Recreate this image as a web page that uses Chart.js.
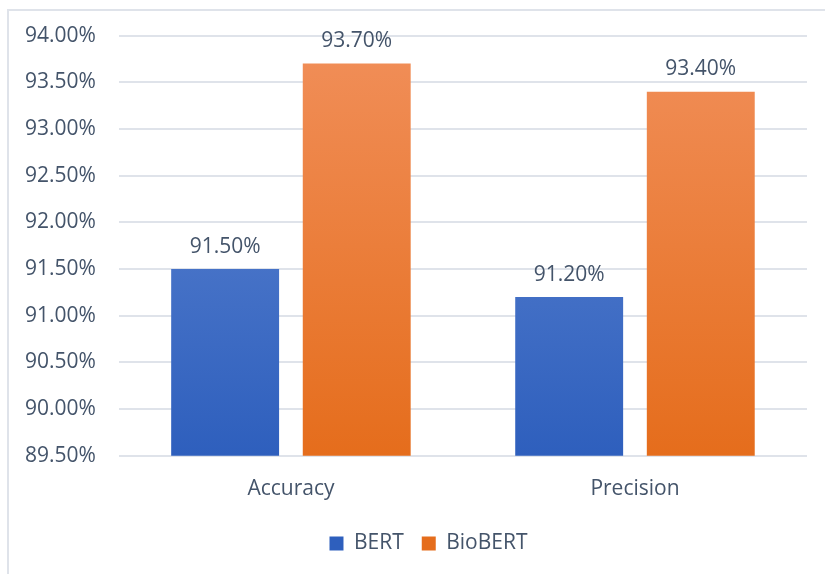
<!DOCTYPE html>
<html>
<head>
<meta charset="utf-8">
<script src="https://cdn.jsdelivr.net/npm/chart.js@4"></script>
<style>
  html, body { margin: 0; padding: 0; background: #fff; overflow: hidden; }
  #frame { position: absolute; left: 7px; top: 9px; width: 830px; height: 580px;
           border-left: 2px solid #dfe3ea; border-top: 2px solid #dfe3ea; }
  #wrap { position: absolute; left: 0; top: 0; width: 850px; height: 574px; }
</style>
</head>
<body>
<div id="frame"></div>
<div id="wrap"><canvas id="myChart"></canvas></div>
<script>
var categories = ['Accuracy', 'Precision'];
var bertValues = [91.5, 91.2];
var biobertValues = [93.7, 93.4];
var seriesNames = ['BERT', 'BioBERT'];

var textColor = '#44546A';
var fontFamily = "'Open Sans', sans-serif";

function makeGradient(ctx, area, top, bottom) {
    var g = ctx.createLinearGradient(0, area.top, 0, area.bottom);
    g.addColorStop(0, top);
    g.addColorStop(1, bottom);
    return g;
}

// draws the value above each bar
var valueLabels = {
    id: 'valueLabels',
    afterDatasetsDraw: function (chart) {
        var ctx = chart.ctx;
        ctx.save();
        ctx.fillStyle = textColor;
        ctx.font = '21px ' + fontFamily;
        ctx.textAlign = 'center';
        ctx.textBaseline = 'bottom';
        chart.data.datasets.forEach(function (ds, i) {
            chart.getDatasetMeta(i).data.forEach(function (bar, j) {
                ctx.fillText(ds.data[j].toFixed(2) + '%', bar.x, bar.y - 12);
            });
        });
        ctx.restore();
    }
};

// the frame is wider than the page, so the legend sits a bit right of the plot centre
var legendShift = {
    id: 'legendShift',
    afterLayout: function (chart) {
        var lg = chart.legend;
        lg.left += 24;
        lg.right += 24;
        lg.adjustHitBoxes();
    }
};

var ctx = document.getElementById('myChart').getContext('2d');
var myChart = new Chart(ctx, {
    type: 'bar',
    data: {
        labels: categories,
        datasets: [{
            label: seriesNames[0],
            data: bertValues,
            backgroundColor: function (c) {
                var a = c.chart.chartArea;
                if (!a) return '#4472C4';
                return makeGradient(c.chart.ctx, a, '#6389d3', '#2e5fbd');
            },
            categoryPercentage: 0.765,
            barPercentage: 0.82
        }, {
            label: seriesNames[1],
            data: biobertValues,
            backgroundColor: function (c) {
                var a = c.chart.chartArea;
                if (!a) return '#ED7D31';
                return makeGradient(c.chart.ctx, a, '#f18f5a', '#e56d1c');
            },
            categoryPercentage: 0.765,
            barPercentage: 0.82
        }]
    },
    options: {
        responsive: true,
        maintainAspectRatio: false,
        animation: false,
        layout: {
            padding: { left: 2, right: 43, top: 29, bottom: 10 }
        },
        plugins: {
            tooltip: { enabled: false },
            legend: {
                position: 'bottom',
                labels: {
                    color: textColor,
                    font: { size: 21, family: fontFamily },
                    boxWidth: 14,
                    boxHeight: 14,
                    padding: 18
                }
            }
        },
        scales: {
            x: {
                grid: { display: false },
                border: { display: false },
                ticks: {
                    color: textColor,
                    font: { size: 21, family: fontFamily },
                    padding: 13
                }
            },
            y: {
                min: 89.5,
                max: 94,
                grid: { color: '#dfe3ea', lineWidth: 2, drawTicks: false },
                border: { display: false },
                ticks: {
                    stepSize: 0.5,
                    color: textColor,
                    font: { size: 21, family: fontFamily },
                    padding: 23,
                    callback: function (v) { return v.toFixed(2) + '%'; }
                }
            }
        }
    },
    plugins: [valueLabels, legendShift]
});
</script>
</body>
</html>
